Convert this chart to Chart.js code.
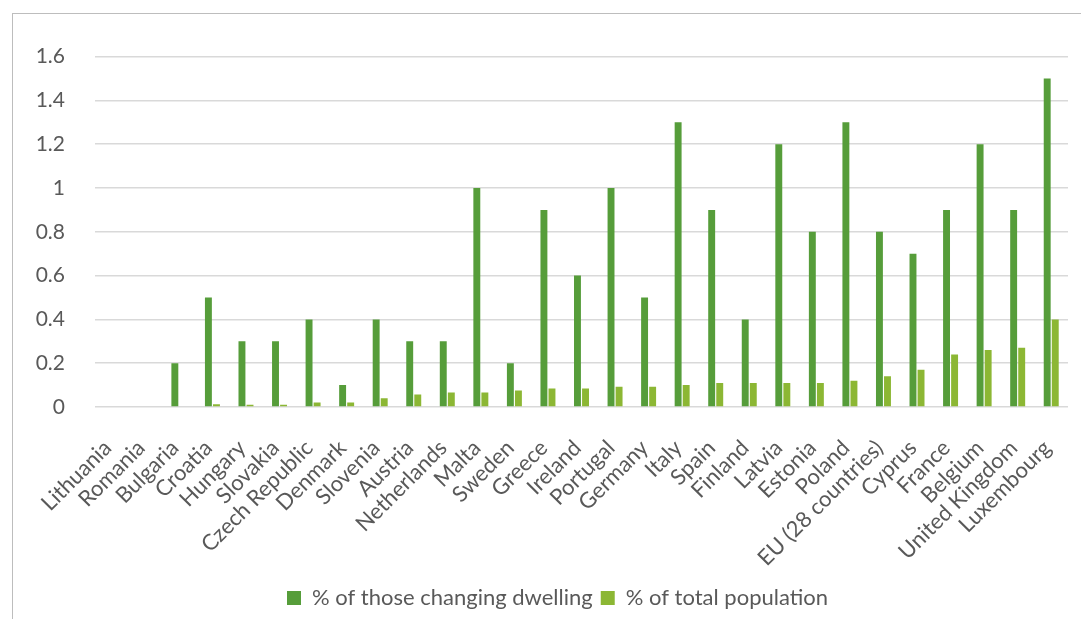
<!DOCTYPE html>
<html>
<head>
<meta charset="utf-8">
<script src="https://cdn.jsdelivr.net/npm/chart.js@4/dist/chart.umd.min.js"></script>
<style>
  html, body { margin: 0; padding: 0; background: #ffffff; overflow: hidden; }
  #frame { position: absolute; left: 12px; top: 13px; width: 1088px; height: 620px; border: 1px solid #bdbdbd; box-sizing: border-box; }
  #wrap { position: absolute; left: 0; top: 0; width: 1087px; height: 605px; }
</style>
</head>
<body>
<div id="frame"><div id="wrap"><canvas id="c"></canvas></div></div>
<script>
const categories = ["Lithuania","Romania","Bulgaria","Croatia","Hungary","Slovakia","Czech Republic","Denmark","Slovenia","Austria","Netherlands","Malta","Sweden","Greece","Ireland","Portugal","Germany","Italy","Spain","Finland","Latvia","Estonia","Poland","EU (28 countries)","Cyprus","France","Belgium","United Kingdom","Luxembourg"];
const changingDwelling = [0,0,0.2,0.5,0.3,0.3,0.4,0.1,0.4,0.3,0.3,1.0,0.2,0.9,0.6,1.0,0.5,1.3,0.9,0.4,1.2,0.8,1.3,0.8,0.7,0.9,1.2,0.9,1.5];
const totalPopulation = [0,0,0,0.012,0.01,0.01,0.02,0.02,0.04,0.057,0.066,0.066,0.075,0.084,0.084,0.093,0.093,0.10,0.11,0.11,0.11,0.11,0.12,0.14,0.17,0.24,0.26,0.27,0.40];
const seriesNames = ["% of those changing dwelling","% of total population"];
const yTicks = [0,0.2,0.4,0.6,0.8,1,1.2,1.4,1.6];

const textColor = "#595959";
const fontFamily = "Lato, 'Open Sans', sans-serif";

const shiftLegend = {
  id: "shiftLegend",
  afterLayout(chart) {
    if (chart.legend) { chart.legend.left += 17; chart.legend.right += 17; }
  }
};

new Chart(document.getElementById("c"), {
  type: "bar",
  data: {
    labels: categories,
    datasets: [
      { label: seriesNames[0], data: changingDwelling, backgroundColor: "#569d3a", borderWidth: 0,
        categoryPercentage: 0.48, barPercentage: 0.86 },
      { label: seriesNames[1], data: totalPopulation, backgroundColor: "#8cb734", borderWidth: 0,
        categoryPercentage: 0.48, barPercentage: 0.86 }
    ]
  },
  plugins: [shiftLegend],
  options: {
    responsive: true,
    maintainAspectRatio: false,
    animation: false,
    layout: { padding: { top: 38, right: 32, left: 0, bottom: 0 } },
    plugins: {
      tooltip: { enabled: false },
      legend: {
        position: "bottom",
        labels: {
          color: textColor,
          font: { family: fontFamily, size: 22 },
          boxWidth: 14, boxHeight: 14, padding: 8
        }
      }
    },
    scales: {
      x: {
        grid: { display: false },
        border: { display: false },
        ticks: {
          color: textColor,
          font: { family: fontFamily, size: 22 },
          minRotation: 45, maxRotation: 45, autoSkip: false, padding: 20, labelOffset: -4
        },
        afterFit: (s) => { s.height = 172; }
      },
      y: {
        min: 0, max: 1.6,
        afterBuildTicks: (s) => { s.ticks = yTicks.map(v => ({ value: v })); },
        grid: { color: "#d9d9d9", lineWidth: 1.5, drawTicks: false },
        border: { display: false },
        ticks: {
          color: textColor,
          font: { family: fontFamily, size: 21 },
          padding: 30,
          callback: (v) => String(Math.round(v * 10) / 10)
        },
        afterFit: (s) => { s.width = 82; }
      }
    }
  }
});
</script>
</body>
</html>
